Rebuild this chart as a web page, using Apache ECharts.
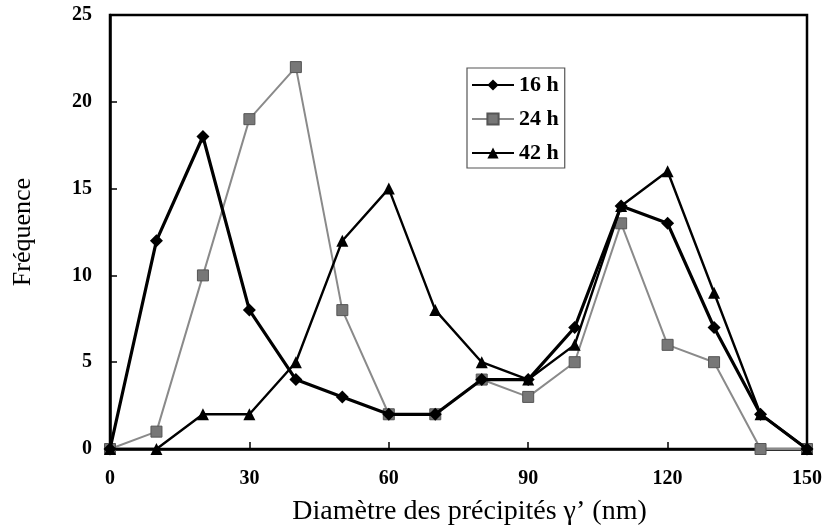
<!DOCTYPE html>
<html><head><meta charset="utf-8">
<script src="https://cdn.jsdelivr.net/npm/echarts@6/dist/echarts.min.js"></script>
<style>html,body{margin:0;padding:0;background:#fff}#c{width:827px;height:531px}</style>
</head><body><div id="c"></div>
<script>
const diam = [0,10,20,30,40,50,60,70,80,90,100,110,120,130,140,150];
const h16 = [0,12,18,8,4,3,2,2,4,4,7,14,13,7,2,0];
const h24 = [0,1,10,19,22,8,2,2,4,3,5,13,6,5,0,0];
const h42 = [0,0,2,2,5,12,15,8,5,4,6,14,16,9,2,0];
const xTicks = [0,30,60,90,120,150];
const yTicks = [0,5,10,15,20,25];
const names = ['16 h','24 h','42 h'];

const pair = a => diam.map((d,i)=>[d,a[i]]);
const serif = '"Liberation Serif","Times New Roman",serif';
const chart = echarts.init(document.getElementById('c'));
chart.setOption({
  animation:false,
  backgroundColor:'#fff',
  grid:{left:110,right:20,top:15,bottom:79,show:true,borderColor:'#000',borderWidth:2.5,backgroundColor:'transparent'},
  legend:{
    data:names, orient:'vertical', left:467, top:68, padding:[6,6,4,4],
    itemGap:12, itemWidth:42, itemHeight:14,
    borderColor:'#555', borderWidth:1.2,
    textStyle:{fontFamily:serif,fontSize:22,fontWeight:'bold',color:'#000'}
  },
  xAxis:{type:'value',min:0,max:150,interval:30,
    name:'Diamètre des précipités γ’ (nm)',nameLocation:'middle',nameGap:49,
    nameTextStyle:{fontFamily:serif,fontSize:28,color:'#000',padding:[0,0,0,22]},
    axisLine:{show:true,lineStyle:{color:'#000',width:2.5}},
    axisTick:{show:true,inside:true,length:7,lineStyle:{color:'#000',width:1.5}},
    axisLabel:{fontFamily:serif,fontSize:20,fontWeight:'bold',color:'#000',margin:20,
      formatter:v=>xTicks.includes(v)?String(v):''},
    splitLine:{show:false}},
  yAxis:{type:'value',min:0,max:25,interval:5,
    name:'Fréquence',nameLocation:'middle',nameGap:74,nameRotate:90,
    nameTextStyle:{fontFamily:serif,fontSize:26,color:'#000'},
    axisLine:{show:true,lineStyle:{color:'#000',width:2.5}},
    axisTick:{show:true,inside:true,length:7,lineStyle:{color:'#000',width:1.5}},
    axisLabel:{fontFamily:serif,fontSize:20,fontWeight:'bold',color:'#000',margin:18,
      formatter:v=>yTicks.includes(v)?String(v):''},
    splitLine:{show:false}},
  series:[
    {name:names[0],type:'line',data:pair(h16),symbol:'diamond',symbolSize:13,
     lineStyle:{color:'#000',width:3.2},itemStyle:{color:'#000'},z:4},
    {name:names[1],type:'line',data:pair(h24),symbol:'rect',symbolSize:11,
     lineStyle:{color:'#8a8a8a',width:2},itemStyle:{color:'#777',borderColor:'#555',borderWidth:1},z:3},
    {name:names[2],type:'line',data:pair(h42),symbol:'triangle',symbolSize:12,
     lineStyle:{color:'#000',width:2.4},itemStyle:{color:'#000'},z:5}
  ]
});
</script></body></html>
